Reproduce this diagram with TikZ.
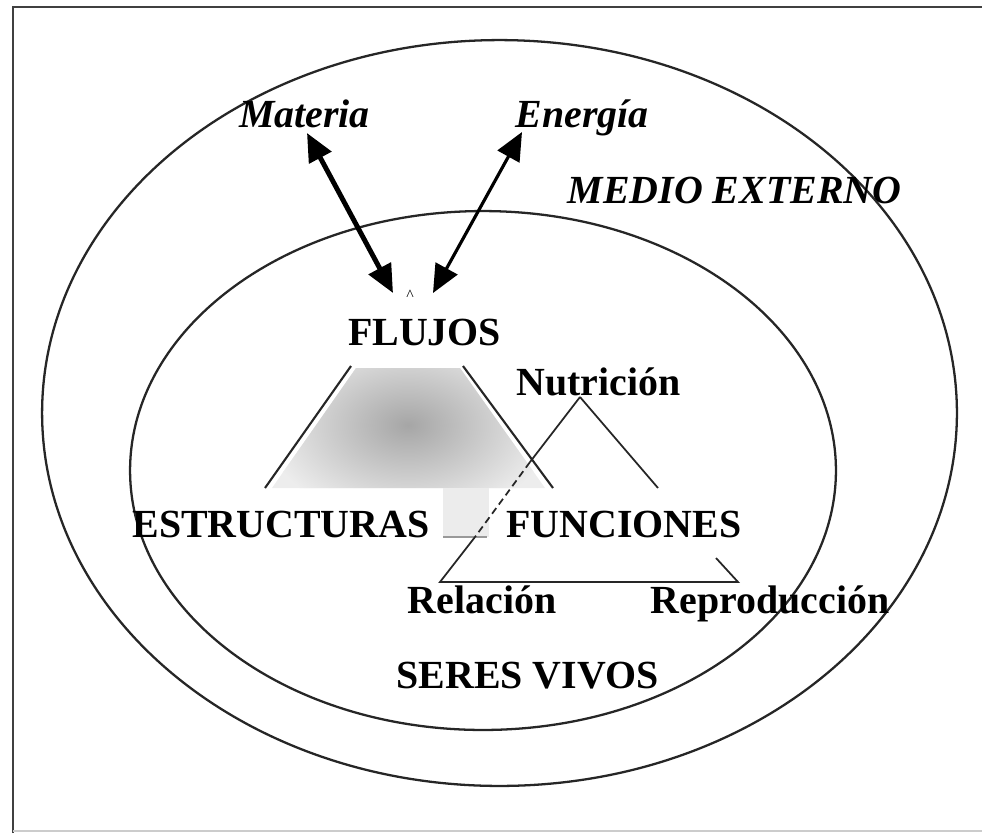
\documentclass[tikz,border=0pt]{standalone}
\usepackage{fontspec}
\setmainfont{Liberation Serif}
\usetikzlibrary{arrows.meta}
\begin{document}
\begin{tikzpicture}[x=0.02cm,y=-0.02cm,
  lbl/.style={font=\fontsize{22.7}{27}\selectfont\bfseries, inner sep=0pt, anchor=base},
  lbli/.style={font=\fontsize{22.7}{27}\selectfont\bfseries\itshape, inner sep=0pt, anchor=base},
  ring/.style={draw=black!85, line width=1.3pt},
  edge/.style={draw=black!85, line width=1.2pt},
  tri/.style={draw=black!85, line width=1pt},
  bigarrow/.style={{Triangle[length=16pt,width=14pt]}-{Triangle[length=16pt,width=14pt]}}
]
\useasboundingbox (0,0) rectangle (982,833);
% frame
\draw[black!75, line width=1.2pt] (13,833) -- (13,7) -- (982,7);
\draw[black!20, line width=1pt] (13,831) -- (982,831);
% ellipses
\draw[ring] (499.5,413) ellipse [x radius=9.15cm, y radius=7.46cm];
\draw[ring] (483,470.5) ellipse [x radius=7.06cm, y radius=5.19cm];
% shaded trapezoid
\begin{scope}
  \clip (356,368) -- (460,368) -- (545,488) -- (272,488) -- cycle;
  \fill[gray!14] (250,360) rectangle (560,490);
  \shade[inner color=gray!70, outer color=gray!14] (408,425) ellipse [x radius=2.9cm, y radius=1.9cm];
\end{scope}
\fill[gray!15] (443,488) rectangle (489,537);
\draw[gray!80, line width=0.8pt] (443,537) -- (487,537);
% trapezoid sides
\coordinate (tl1) at (351,366); \coordinate (tl2) at (265,488);
\coordinate (tr1) at (463,366); \coordinate (tr2) at (553,488);
\draw[edge] (tl1) -- (tl2);
\draw[edge] (tr1) -- (tr2);
% functions triangle
\coordinate (apex) at (580,397);
\coordinate (bl) at (440,582);
\coordinate (br) at (738,582);
\coordinate (d1) at (530,462);
\coordinate (d2) at (475,537);
\coordinate (r1) at (658,488);
\coordinate (r2) at (716,558);
\draw[tri] (apex) -- (d1);
\draw[tri, dashed, dash pattern=on 4pt off 2.5pt] (d1) -- (d2);
\draw[tri] (d2) -- (bl) -- (br) -- (r2);
\draw[tri] (apex) -- (r1);
% labels
\node[lbli] (materia) at (304.5,127) {Materia};
\node[lbli] (energia) at (582,127) {Energía};
\node[lbli] (medio) at (734.5,203) {MEDIO EXTERNO};
\node[lbl] (flujos) at (424.5,345) {FLUJOS};
\node[lbl] (nutri) at (598.5,395) {Nutrición};
\node[lbl] (estr) at (281,537) {ESTRUCTURAS};
\node[lbl] (func) at (624,537) {FUNCIONES};
\node[lbl] (rel) at (482,613) {Relación};
\node[lbl] (repro) at (770,613) {Reproducción};
\node[lbl] (seres) at (527.5,688) {SERES VIVOS};
\node[inner sep=0pt, font=\fontsize{9}{10}\selectfont] (caret) at (410,295) {\^{}};
% arrows
\coordinate (mt) at (307,133); \coordinate (mb) at (393,293);
\coordinate (et) at (522,132); \coordinate (eb) at (433,293);
\draw[bigarrow, line width=2.8pt] (mt) -- (mb);
\draw[bigarrow, line width=1.8pt] (et) -- (eb);
\end{tikzpicture}
\end{document}
